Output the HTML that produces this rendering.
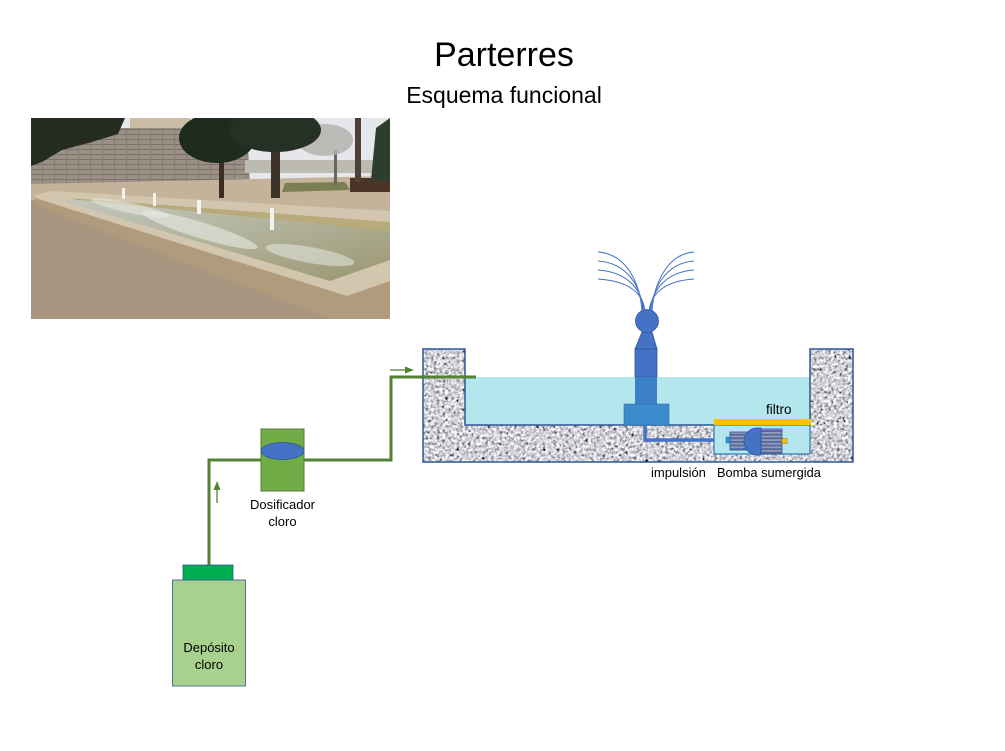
<!DOCTYPE html>
<html><head><meta charset="utf-8"><style>
html,body{margin:0;padding:0;background:#fff;}
svg{display:block;}
text{font-family:"Liberation Sans",Arial,sans-serif;fill:#000;}
</style></head><body>
<svg width="1005" height="751" viewBox="0 0 1005 751" xmlns="http://www.w3.org/2000/svg">
<defs>
  <filter id="granite" x="0" y="0" width="100%" height="100%" filterUnits="objectBoundingBox">
    <feTurbulence type="fractalNoise" baseFrequency="0.35" numOctaves="3" seed="7" result="n"/>
    <feColorMatrix in="n" type="matrix" values="0.33 0.33 0.33 0 0  0.33 0.33 0.33 0 0  0.33 0.33 0.33 0 0  0 0 0 0 1" result="g"/>
    <feComponentTransfer in="g" result="c">
      <feFuncR type="linear" slope="3.3" intercept="-1.0"/>
      <feFuncG type="linear" slope="3.3" intercept="-1.0"/>
      <feFuncB type="linear" slope="3.3" intercept="-0.96"/>
    </feComponentTransfer>
    <feComposite in="c" in2="SourceGraphic" operator="in"/>
  </filter>
  <pattern id="stripes" patternUnits="userSpaceOnUse" x="0" y="432" width="4" height="3.6">
    <rect x="0" y="0" width="4" height="1.8" fill="#8e9cb8"/>
    <rect x="0" y="1.8" width="4" height="1.8" fill="#55679a"/>
  </pattern>
  <pattern id="bricks" patternUnits="userSpaceOnUse" width="12" height="5">
    <rect width="12" height="5" fill="#9a9086"/>
    <rect y="4" width="12" height="1" fill="#7c7269"/>
    <rect x="6" width="1" height="5" fill="#857b71"/>
  </pattern>
  <linearGradient id="wat" x1="0" y1="0" x2="1" y2="1">
    <stop offset="0" stop-color="#c4c8bc"/>
    <stop offset="0.5" stop-color="#b1b29a"/>
    <stop offset="1" stop-color="#9a9670"/>
  </linearGradient>
  <clipPath id="pc"><rect x="31" y="118" width="359" height="201"/></clipPath>
</defs>

<!-- Title -->
<text x="504" y="66" font-size="34" text-anchor="middle">Parterres</text>
<text x="504" y="103" font-size="23" text-anchor="middle">Esquema funcional</text>

<!-- Photo -->
<g clip-path="url(#pc)">
  <rect x="31" y="118" width="359" height="201" fill="#e6e7ea"/>
  <rect x="130" y="118" width="60" height="14" fill="#c9bda6"/>
  <polygon points="31,128 247,128 250,184 31,189" fill="url(#bricks)"/>
  <rect x="245" y="160" width="145" height="13" fill="#bdbab4"/>
  <polygon points="31,184 390,176 390,240 31,240" fill="#c4b29b"/>
  <polygon points="285,183 345,182 350,190 282,192" fill="#7a7f52"/>
  <rect x="350" y="178" width="40" height="14" fill="#4b3526"/>
  <rect x="334" y="150" width="3" height="35" fill="#6b6560"/>
  <ellipse cx="325" cy="140" rx="28" ry="16" fill="#b3b0ab" opacity="0.8"/>
  <rect x="355" y="118" width="6" height="64" fill="#4c423a"/>
  <polygon points="376,128 390,118 390,182 371,180" fill="#2e3e2e"/>
  <polygon points="31,118 125,118 118,134 92,142 62,150 42,162 31,166" fill="#272c20"/>
  <rect x="219" y="158" width="5" height="40" fill="#3b2d22"/>
  <rect x="271" y="148" width="9" height="50" fill="#3d3228"/>
  <ellipse cx="217" cy="138" rx="38" ry="25" fill="#1f2b1f"/>
  <ellipse cx="275" cy="130" rx="46" ry="22" fill="#253125"/>
  <!-- lower ground -->
  <polygon points="31,200 390,215 390,319 31,319" fill="#a8957f"/>
  <!-- basin -->
  <polygon points="35,196 347,296 390,281 390,319 330,319 35,205" fill="#b19b7d"/>
  <polygon points="35,195 52,191 390,211 390,281 347,296 35,198" fill="#d3c6ae"/>
  <polygon points="70,198 390,222 390,232 80,201" fill="#b9aa7c"/>
  <polygon points="62,201 80,200 390,231 390,260 330,281" fill="url(#wat)"/>
  <ellipse cx="200" cy="230" rx="60" ry="8" fill="#e8ebe6" opacity="0.6" transform="rotate(17 200 230)"/>
  <ellipse cx="310" cy="255" rx="45" ry="8" fill="#e6e9e4" opacity="0.55" transform="rotate(10 310 255)"/>
  <ellipse cx="130" cy="208" rx="40" ry="5" fill="#e8ebe6" opacity="0.55" transform="rotate(12 130 208)"/>
  <rect x="122" y="188" width="3" height="11" fill="#f2f2f0"/>
  <rect x="153" y="193" width="3" height="13" fill="#f2f2f0"/>
  <rect x="197" y="200" width="4" height="14" fill="#f2f2f0"/>
  <rect x="270" y="208" width="4" height="22" fill="#f2f2f0"/>
</g>

<!-- Basin (granite) -->
<path d="M423,349 H465 V425 H810 V349 H853 V462 H423 Z" fill="#999" filter="url(#granite)"/>
<rect x="465" y="377" width="345" height="48" fill="#b4e6ee"/>
<path d="M423,349 H465 V425 H810 V349 H853 V462 H423 Z" fill="none" stroke="#2f5597" stroke-width="1.5"/>

<!-- Fountain spray -->
<g fill="none" stroke="#4472c4" stroke-width="1">
  <path d="M642,311 C640,282 626,254 598,252"/>
  <path d="M643,311 C641,286 627,263 598,261"/>
  <path d="M644,311 C642,290 628,272 598,270"/>
  <path d="M645,311 C643,294 630,281 598,279"/>
  <path d="M652,311 C654,282 668,254 694,252"/>
  <path d="M651,311 C653,286 667,263 694,261"/>
  <path d="M650,311 C652,290 666,272 694,270"/>
  <path d="M649,311 C651,294 664,281 694,279"/>
</g>
<!-- Nozzle -->
<polygon points="642,332 652,332 657,349 635,349" fill="#4472c4" stroke="#2f5597" stroke-width="0.8"/>
<circle cx="647" cy="321" r="11.5" fill="#4472c4" stroke="#2f5597" stroke-width="0.8"/>
<rect x="635" y="349" width="22" height="28" fill="#4472c4" stroke="#2f5597" stroke-width="0.8"/>
<rect x="635" y="377" width="22" height="27" fill="#3b80c8"/>
<rect x="624" y="404" width="45" height="21" fill="#3c8bcd" stroke="#2e6fb0" stroke-width="0.6"/>
<!-- impulsion pipe -->
<polyline points="645,425 645,440 728,440" fill="none" stroke="#4472c4" stroke-width="3.5"/>

<!-- Filter box -->
<rect x="714" y="425" width="96" height="29" fill="#b4e6ee" stroke="#2e75b6" stroke-width="1.2"/>
<rect x="714" y="419" width="97" height="6" fill="#ffc000"/>
<!-- Pump -->
<rect x="726" y="437" width="5" height="6" fill="#1fa0e6" stroke="#2f5597" stroke-width="0.5"/>
<rect x="730" y="432" width="22" height="18" fill="url(#stripes)" stroke="#2f5597" stroke-width="0.8"/>
<rect x="761" y="429" width="21" height="25" fill="url(#stripes)" stroke="#2f5597" stroke-width="0.8"/>
<path d="M761,428 L757,428 A13,13.5 0 0 0 757,455 L761,455 Z" fill="#4472c4" stroke="#2f5597" stroke-width="0.8"/>
<rect x="782" y="438.5" width="5" height="5" fill="#ffc000" stroke="#7f6000" stroke-width="0.4"/>

<text x="766" y="414" font-size="13.5">filtro</text>
<text x="651" y="477" font-size="13">impulsión</text>
<text x="717" y="477" font-size="12.8">Bomba sumergida</text>

<!-- Chlorine line -->
<polyline points="209,565 209,460 391,460 391,377 476,377" fill="none" stroke="#548235" stroke-width="3"/>
<!-- arrows -->
<line x1="390" y1="370" x2="406" y2="370" stroke="#548235" stroke-width="1.3"/>
<polygon points="405,366.5 414,370 405,373.5" fill="#548235"/>
<line x1="217" y1="503" x2="217" y2="489" stroke="#548235" stroke-width="1.3"/>
<polygon points="213.5,490 217,481 220.5,490" fill="#548235"/>

<!-- Dosificador -->
<rect x="261" y="429" width="43" height="62" fill="#70ad47" stroke="#507e32" stroke-width="1"/>
<ellipse cx="282.5" cy="451" rx="21.5" ry="8.5" fill="#4472c4" stroke="#2f5597" stroke-width="0.8"/>
<text x="282.5" y="509" font-size="13" text-anchor="middle">Dosificador</text>
<text x="282.5" y="526" font-size="13" text-anchor="middle">cloro</text>

<!-- Depósito -->
<rect x="183" y="565" width="50" height="15" fill="#00b050" stroke="#2f5597" stroke-width="0.8"/>
<rect x="172.5" y="580" width="73" height="106" fill="#a9d18e" stroke="#2f5597" stroke-width="0.8"/>
<text x="209" y="652" font-size="13" text-anchor="middle">Depósito</text>
<text x="209" y="669" font-size="13" text-anchor="middle">cloro</text>
</svg>
</body></html>
